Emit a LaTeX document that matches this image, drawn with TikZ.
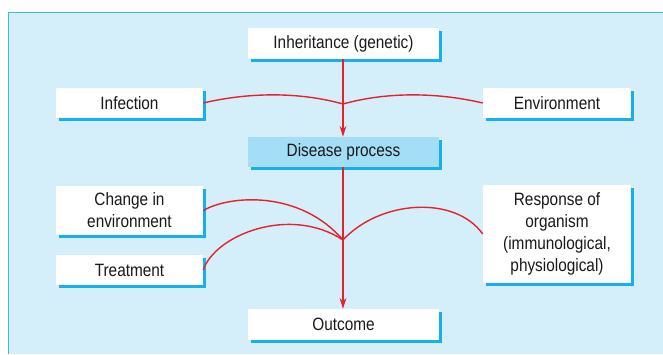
\documentclass[tikz,border=0pt]{standalone}
\usepackage{fontspec}
\setmainfont{Liberation Sans}[FakeStretch=0.86]
\usetikzlibrary{arrows.meta,shadows}
\definecolor{panel}{HTML}{D4EEFA}
\definecolor{panelborder}{HTML}{3DB8E8}
\definecolor{shadowc}{HTML}{16B0EC}
\definecolor{dis}{HTML}{A3DDF6}
\definecolor{redl}{HTML}{E8202A}
\tikzset{
  box/.style={fill=white, draw=none, align=center, inner sep=0pt,
    font=\fontsize{13.4}{16.4}\selectfont, text=black!90,
    drop shadow={shadow xshift=2.4pt, shadow yshift=-2.4pt, fill=shadowc, opacity=1}},
  link/.style={draw=redl, line width=1.05pt},
  arr/.style={link, -{Stealth[length=8pt,width=5pt]}}
}
\begin{document}
\begin{tikzpicture}[x=0.75pt,y=-0.75pt]
\useasboundingbox (0,0) rectangle (663,354);
\fill[white] (0,0) rectangle (663,354);
\fill[panel] (8,12) rectangle (663,354);
\draw[panelborder, line width=0.9pt] (8.3,354) -- (8.3,12.3) -- (663,12.3);
\node[box, minimum width=143.25pt, minimum height=23.25pt] (inh) at (343.5,43.5) {Inheritance (genetic)};
\node[box, minimum width=110.25pt, minimum height=22.5pt] (inf) at (129.5,103) {Infection};
\node[box, minimum width=111pt, minimum height=22.5pt] (env) at (557,103) {Environment};
\node[box, fill=dis, minimum width=143.25pt, minimum height=22.5pt] (dis) at (343.5,152) {Disease process};
\node[box, minimum width=110.25pt, minimum height=36.75pt] (chg) at (129.5,210.5) {Change in\\environment};
\node[box, minimum width=110.25pt, minimum height=22.5pt] (trt) at (129.5,270) {Treatment};
\node[box, minimum width=111pt, minimum height=73.5pt] (rsp) at (557,234) {Response of\\organism\\(immunological,\\physiological)};
\node[box, minimum width=143.25pt, minimum height=23.25pt] (out) at (343.5,324.5) {Outcome};
\coordinate (j1) at (343,104);
\coordinate (j2) at (343,240);
\draw[arr] (inh.south -| j1) -- (dis.north -| j1);
\draw[link] (inf.east) .. controls (250,92) and (300,92) .. (j1);
\draw[link] (env.west) .. controls (436,92) and (386,92) .. (j1);
\draw[arr] (dis.south -| j2) -- (out.north -| j2);
\draw[link] (chg.east) .. controls (230,195) and (300,190) .. (j2);
\draw[link] (trt.east) .. controls (215,235) and (290,205) .. (j2);
\draw[link] (rsp.west) .. controls (455,195) and (380,200) .. (j2);
\end{tikzpicture}
\end{document}
